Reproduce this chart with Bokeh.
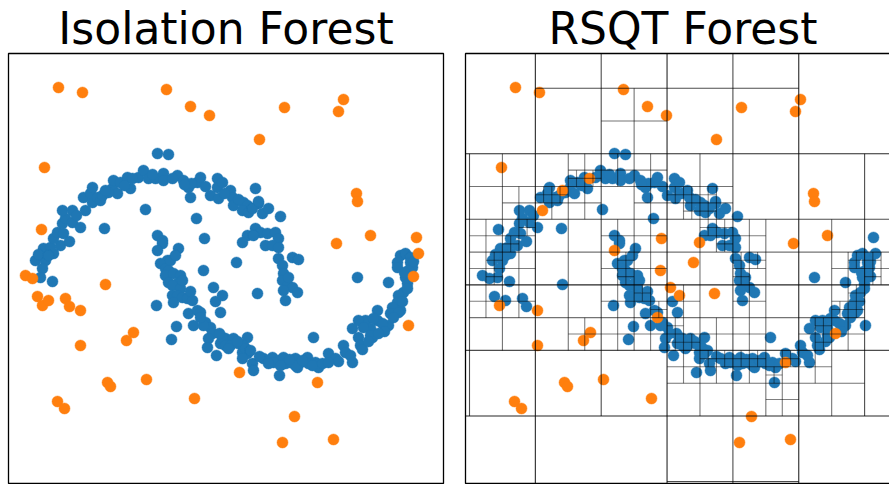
from bokeh.plotting import figure
from bokeh.layouts import row
from bokeh.embed import file_html
from bokeh.resources import INLINE
from bokeh.models import Title

# ---- data (arbitrary units) ----
# outliers flagged by both detectors
both_out_x = [46,70,154,178,197,272,331,326,247,32,344,345,358,324,30,68,121,114,68,95,98,134,45,52,182,282,270,321]
both_out_y = [394,389,392,375,366,374,382,370,342,314,288,280,246,238,176,171,149,141,136,99,95,102,80,73,83,65,39,42]
# flagged only by Isolation Forest
iforest_only_x = [29,404,406,401,396,13,20,93,25,36,53,57,227,305]
iforest_only_y = [252,244,228,205,156,206,203,197,185,181,183,175,109,99]
# flagged only by RSQT Forest
rsqt_only_x = [120,93,73,145,192,224,230,191,201,210,245,188,366,316]
rsqt_only_y = [303,291,271,231,243,219,239,211,194,186,188,164,148,119]
# inliers for both
inlier_x = [23,33,41,30,28,40,31,38,48,41,45,51,50,53,60,68,50,60,71,80,78,80,85,88,90,100,105,101,108,115,118,126,131,136,143,151,151,145,156,
            165,171,176,178,185,188,179,205,205,198,206,218,220,221,231,235,230,236,243,246,250,268,210,240,
            133,92,184,267,301,345,376,144,159,164,
            145,150,166,155,148,153,158,156,153,161,168,156,165,160,168,160,165,161,170,175,180,208,176,185,193,181,198,200,196,188,191,195,204,208,213,
            210,213,221,218,226,235,231,230,235,230,240,241,251,260,266,271,273,278,283,288,285,295,296,303,306,216,233,261,283,316,323,331,333,340,
            235,243,248,255,263,266,253,260,266,266,270,280,286,271,270,275,280,285,273,241,271,276,
            388,393,398,385,398,400,385,393,395,391,386,385,388,380,378,376,365,365,370,353,346,358,360,340,346,348,396,395,386,361,351,358,
            26,36,57,64,96,112,140,160,172,193,212,226,246,256,163,170,150,178,203,207,225,238,247,256,268,277,290,300,310,326,338,350,356,372,381,390,401,392]
inlier_y = [221,221,228,213,204,200,233,234,236,243,249,248,258,263,259,254,271,271,284,279,288,294,284,281,286,293,288,301,299,304,293,304,311,303,303,308,301,328,327,
            306,301,294,284,299,304,298,303,294,286,283,291,284,276,279,276,271,269,293,278,268,265,299,273,
            272,253,263,106,144,204,199,176,142,155,
            246,241,233,221,218,213,221,211,206,208,206,199,198,196,193,186,186,179,184,183,181,169,168,171,159,156,154,148,143,169,156,134,126,138,143,
            144,136,143,136,138,144,136,129,128,123,118,111,123,124,121,124,118,119,123,119,114,124,118,119,114,133,133,119,116,128,123,136,129,119,
            246,253,249,248,249,243,236,236,234,223,216,224,222,208,201,196,194,189,181,246,191,204,
            226,228,224,219,219,214,214,204,198,189,186,179,171,174,168,156,171,161,158,161,161,153,144,153,144,136,211,193,169,163,154,146,
            227,226,240,266,289,296,307,303,297,295,288,282,280,273,226,201,238,190,180,148,140,131,125,118,116,122,121,116,118,120,126,132,140,150,164,180,220,209]

# quadtree split cells of the RSQT forest, per half size: centres (x list, y list) in lattice cells
split_centres = {
    4: ([3], [3]),
    2: ([1, 5, 1, 5], [1, 1, 5, 5]),
    1: ([2, 4, 0, 2, 4, 6, 0, 2, 4, 6, 4],
        [6, 6, 4, 4, 4, 4, 2, 2, 2, 2, 0]),
    0.5: ([0.5, 1.5, 2.5, 3.5, 0.5, 1.5, 2.5, 3.5, 4.5, 5.5, 6.5, 0.5, 1.5, 2.5, 3.5, 4.5, 5.5, 3.5, 4.5, 5.5, 2.5],
          [4.5, 4.5, 4.5, 4.5, 3.5, 3.5, 3.5, 3.5, 3.5, 3.5, 3.5, 2.5, 2.5, 2.5, 2.5, 2.5, 2.5, 1.5, 1.5, 1.5, 5.5]),
    0.25: ([0.25, 0.75, 0.75, 0.25, 0.75, 1.25, 1.75, 1.75, 2.25, 2.75, 2.75, 3.25, 3.75,
            2.25, 2.25, 2.75, 2.25, 2.75, 2.75, 3.25, 3.25, 2.75, 2.25,
            3.25, 3.75, 4.25, 4.75, 3.75, 5.25, 3.75, 4.25, 4.25, 4.25,
            5.75, 6.25, 5.75, 5.75, 5.25, 0.75, 0.25, 1.75, 4.25, 4.75],
           [3.25, 3.25, 3.75, 3.75, 4.25, 4.25, 4.25, 4.75, 4.75, 4.75, 4.25, 4.25, 4.25,
            3.75, 3.25, 3.25, 2.75, 2.75, 2.25, 2.25, 2.75, 3.75, 2.25,
            1.75, 1.75, 1.75, 1.75, 2.25, 1.75, 3.75, 3.75, 3.25, 2.75,
            3.25, 3.25, 2.75, 2.25, 2.25, 2.75, 2.75, 2.25, 2.25, 1.25]),
    0.125: ([1.125, 1.375, 0.625, 0.875, 3.125, 3.375, 3.375, 3.625, 3.625, 2.375, 2.375, 2.625, 2.875,
             3.125, 3.375, 3.125, 4.125, 4.375, 3.625, 3.875, 3.875, 4.125, 4.375, 4.125,
             5.875, 5.625, 5.875, 5.375, 5.375, 5.875, 6.125, 6.125, 1.625, 1.875, 3.625, 3.875,
             4.875, 4.625, 0.375, 0.375],
            [4.375, 4.375, 3.625, 3.875, 4.375, 4.375, 4.125, 4.125, 4.375, 3.125, 3.375, 2.875, 2.625,
             2.125, 2.125, 2.375, 1.875, 1.875, 3.875, 3.875, 3.625, 3.375, 3.375, 3.125,
             2.625, 2.625, 2.875, 2.375, 2.125, 3.375, 3.375, 3.125, 4.625, 4.625, 1.875, 1.875,
             1.875, 1.625, 3.125, 3.375]),
}
cell_w, cell_h = 65.85, 65.55

x_range = (-4, 431)
y_range = (-2, 428)

BLUE = "#1f77b4"
ORANGE = "#ff7f0e"


def make_fig(title, left, right, blue_sets, orange_sets):
    p = figure(width=left + 435 + right, height=484, frame_width=435, frame_height=430,
               x_range=x_range, y_range=y_range, output_backend="svg", toolbar_location=None,
               min_border_left=left, min_border_right=right, min_border_top=53, min_border_bottom=1)
    p.axis.visible = False
    p.grid.visible = False
    p.outline_line_color = "black"
    p.outline_line_width = 1.3
    p.background_fill_color = "white"
    p.border_fill_color = "white"
    t = Title(text=title, align="center", text_font="DejaVu Sans", text_font_size="44px",
              text_font_style="normal", text_color="black", standoff=0, offset=0)
    p.add_layout(t, "above")
    for xs, ys in blue_sets:
        p.scatter(xs, ys, size=11, fill_color=BLUE, line_color=BLUE, line_width=0.5)
    for xs, ys in orange_sets:
        p.scatter(xs, ys, size=11, fill_color=ORANGE, line_color=ORANGE, line_width=0.5)
    return p


p1 = make_fig("Isolation Forest", 8, 11,
              [(inlier_x, inlier_y), (rsqt_only_x, rsqt_only_y)],
              [(both_out_x, both_out_y), (iforest_only_x, iforest_only_y)])
p2 = make_fig("RSQT Forest", 11, 0,
              [(inlier_x, inlier_y), (iforest_only_x, iforest_only_y)],
              [(both_out_x, both_out_y), (rsqt_only_x, rsqt_only_y)])

alpha_by_size = {4: 0.85, 2: 0.85, 1: 0.7, 0.5: 0.55, 0.25: 0.5, 0.125: 0.45}
for h, (cxs, cys) in split_centres.items():
    vx = [c * cell_w for c in cxs]
    vy0 = [(c - h) * cell_h for c in cys]
    vy1 = [(c + h) * cell_h for c in cys]
    hx0 = [(c - h) * cell_w for c in cxs]
    hx1 = [(c + h) * cell_w for c in cxs]
    hy = [c * cell_h for c in cys]
    a = alpha_by_size[h]
    p2.segment(x0=vx, y0=vy0, x1=vx, y1=vy1, line_color="black", line_alpha=a, line_width=1.1)
    p2.segment(x0=hx0, y0=hy, x1=hx1, y1=hy, line_color="black", line_alpha=a, line_width=1.1)

layout = row(p1, p2)
html = file_html(layout, INLINE)
html = html.replace("<head>", "<head><style>html,body{margin:0;padding:0;overflow:hidden;}</style>", 1)
open("out.html", "w").write(html)
